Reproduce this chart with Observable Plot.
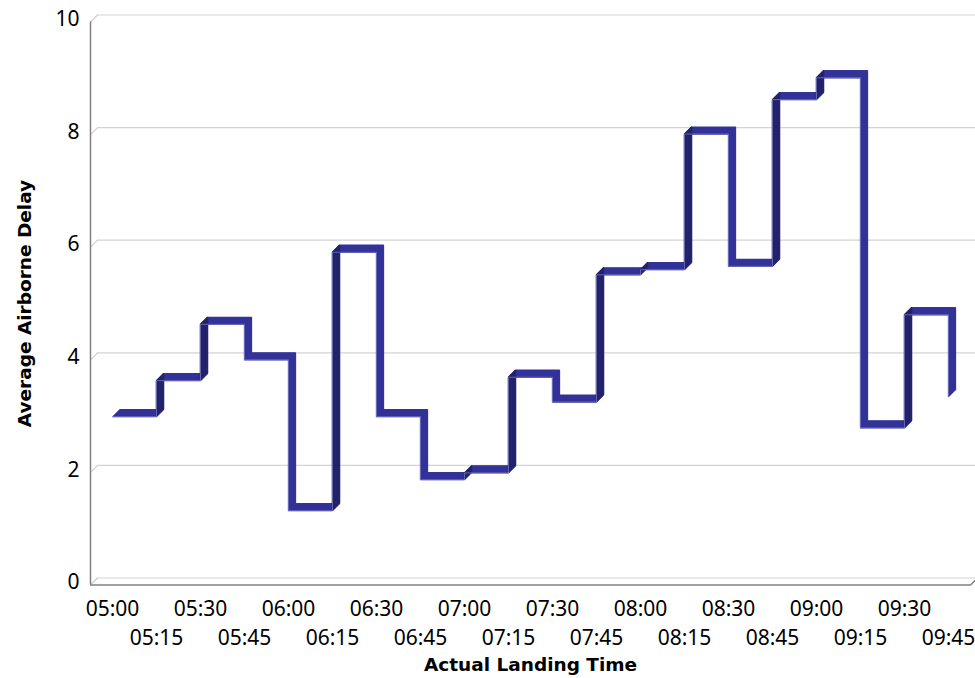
<!DOCTYPE html>
<html>
<head>
<meta charset="utf-8">
<script src="https://cdn.jsdelivr.net/npm/d3@7"></script>
<script src="https://cdn.jsdelivr.net/npm/@observablehq/plot@0.6"></script>
<style>
  html, body { margin: 0; padding: 0; background: #ffffff; }
  #chart svg { display: block; }
</style>
</head>
<body>
<div id="chart"></div>
<script>
// ---- data ----
const timeLabels = ["05:00","05:15","05:30","05:45","06:00","06:15","06:30","06:45","07:00","07:15",
                    "07:30","07:45","08:00","08:15","08:30","08:45","09:00","09:15","09:30","09:45"];
const delays = [2.99, 3.63, 4.63, 4.00, 1.32, 5.91, 2.99, 1.87, 1.99, 3.69,
                3.25, 5.51, 5.60, 8.01, 5.66, 8.62, 9.01, 2.79, 4.80, 3.34];
const yTicks = [0, 2, 4, 6, 8, 10];
const xTitle = "Actual Landing Time";
const yTitle = "Average Airborne Delay";

// ---- derived ----
const parseTime = d3.utcParse("%H:%M");
const fmtTime = d3.utcFormat("%H:%M");
const data = timeLabels.map((t, i) => ({time: parseTime(t), delay: delays[i]}));
const rises = data.slice(1)
  .map((d, i) => ({time: d.time, from: data[i].delay, to: d.delay}))
  .filter(d => d.to > d.from);
const rowOne = data.filter((d, i) => i % 2 === 0).map(d => d.time);
const rowTwo = data.filter((d, i) => i % 2 === 1).map(d => d.time);
const halfStep = 7.5 * 60000;
const xDomain = [new Date(+data[0].time - halfStep), new Date(+data[data.length - 1].time + halfStep)];

const DEPTH = 7;
const offsets = d3.range(0, DEPTH + 0.001, 0.5);
const lineShape = {draw(context, l) { context.moveTo(0, 0); context.lineTo(0, -l); }};

const LIGHT = "#333399";
const DARK = "#24246b";
const TICK_FONT = "'Noto Sans', 'DejaVu Sans', sans-serif";

const chart = Plot.plot({
  width: 975,
  height: 678,
  marginLeft: 90,
  marginRight: 5,
  marginTop: 21.5,
  marginBottom: 93.5,
  style: {fontFamily: "'DejaVu Sans', sans-serif", fontSize: "20px", color: "#000", background: "#fff"},
  x: {type: "utc", domain: xDomain},
  y: {domain: [0, 10]},
  marks: [
    // back-wall gridlines
    Plot.ruleY(yTicks, {dx: DEPTH, dy: -DEPTH, stroke: "#d3d3d3", strokeWidth: 1.2}),
    // side diagonals from the front axis to the back wall
    Plot.vector(yTicks, {x: () => xDomain[0], y: d => d, length: DEPTH * Math.SQRT2, rotate: 45,
      anchor: "start", shape: lineShape, stroke: "#cfcfcf", strokeWidth: 1.2}),
    Plot.vector([0], {x: () => xDomain[1], y: d => d, length: DEPTH * Math.SQRT2, rotate: 45,
      anchor: "start", shape: lineShape, stroke: "#808080", strokeWidth: 1.5}),
    // front axes
    Plot.ruleX([xDomain[0]], {y1: 0, y2: 10, stroke: "#808080", strokeWidth: 1.5}),
    Plot.ruleY([0], {stroke: "#808080", strokeWidth: 1.5}),
    // the extruded step ribbon
    ...offsets.map(o => Plot.line(data, {x: "time", y: "delay", curve: "step-after",
      dx: o, dy: -o, stroke: LIGHT, strokeWidth: 1.3, strokeLinecap: "butt", strokeLinejoin: "miter"})),
    ...offsets.map(o => Plot.ruleX(rises, {x: "time", y1: "from", y2: "to",
      dx: o, dy: -o, stroke: DARK, strokeWidth: 1.3})),
    Plot.line(data, {x: "time", y: "delay", curve: "step-after", stroke: "#8c8cd2",
      strokeWidth: 0.8, strokeOpacity: 0.8}),
    // axes
    Plot.axisY(yTicks, {tickSize: 0, tickPadding: 11, dy: -2.5, label: null, fontSize: 21,
      fontFamily: TICK_FONT, tickFormat: d3.format("d")}),
    Plot.axisX(rowOne, {tickSize: 0, tickPadding: 16, tickFormat: fmtTime, label: null, fontSize: 21,
      fontFamily: TICK_FONT}),
    Plot.axisX(rowTwo, {tickSize: 0, tickPadding: 16, dy: 29, tickFormat: fmtTime, label: null, fontSize: 21,
      fontFamily: TICK_FONT}),
    Plot.text([xTitle], {frameAnchor: "bottom", dy: 80.5, lineAnchor: "middle", text: d => d,
      fontSize: 18.5, fontWeight: "bold", fill: "#000"}),
    Plot.text([yTitle], {frameAnchor: "left", dx: -65, rotate: -90, textAnchor: "middle",
      lineAnchor: "middle", text: d => d, fontSize: 18.5, fontWeight: "bold", fill: "#000"})
  ]
});
document.getElementById("chart").appendChild(chart);
</script>
</body>
</html>
